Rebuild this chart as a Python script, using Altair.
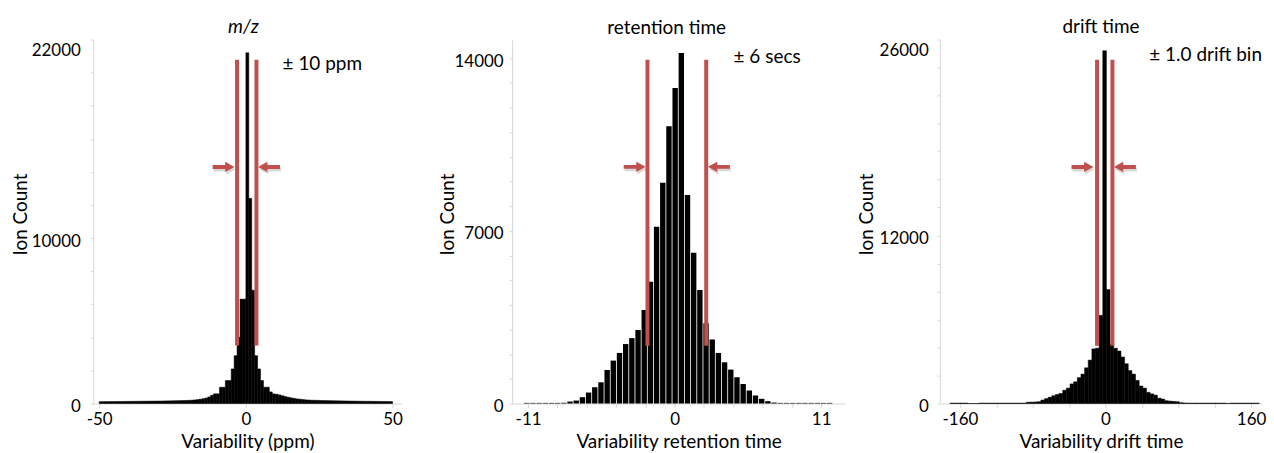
import altair as alt
import pandas as pd

FONT = "Lato"
RED = "#c0504d"
AXIS_GRAY = "#d9d9d9"

# ---------------- panel 1 : m/z (1 ppm bins, start of bin) ----------------
mz_bin_start = list(range(-50, 50))
mz_bin_width = 1
mz_counts = [
    110, 112, 114, 116, 118, 120, 122, 124, 126, 128,
    130, 132, 134, 136, 138, 140, 142, 144, 146, 148,
    150, 153, 156, 159, 162, 166, 170, 175, 180, 185,
    190, 200, 215, 235, 260, 290, 330, 400, 500, 585,
    585, 985, 985, 1390, 1390, 2090, 2890, 4000, 6310, 6310,
    21200, 12400, 6850, 2890, 2090, 1390, 985, 985, 700, 585,
    560, 520, 470, 420, 380, 340, 310, 280, 260, 240,
    220, 210, 200, 195, 190, 185, 180, 176, 172, 168,
    165, 162, 159, 156, 153, 150, 147, 144, 141, 138,
    136, 134, 132, 130, 128, 126, 124, 122, 120, 118,
]

# ---------------- panel 2 : retention time ----------------
rt_bin_width = 0.464
rt_bin_start = [round(-11.3 + rt_bin_width * i, 3) for i in range(50)]
rt_counts = [
    25, 25, 25, 25, 25, 25, 30, 80, 120, 255,
    445, 660, 860, 1360, 1740, 2050, 2410, 2650, 2980, 3790,
    4930, 7160, 8950, 11240, 12790, 14200, 8450, 6105, 4600, 3250,
    2590, 2050, 1670, 1375, 1065, 795, 525, 325, 190, 95,
    40, 25, 25, 25, 25, 25, 25, 25, 25, 25,
]

# ---------------- panel 3 : drift time (bin centres) ----------------
dt_bin_width = 4
dt_bin_center = list(range(-169, 168, 4))
dt_counts = [
    30, 30, 30, 30, 30, 0, 0, 0, 30, 30,
    30, 30, 30, 30, 30, 30, 30, 30, 30, 30,
    30, 90, 100, 110, 130, 250, 350, 450, 560, 650,
    720, 950, 1100, 1400, 1550, 1850, 2100, 2550, 3100, 3900,
    3950, 6300, 25200, 8140, 4250, 3950, 3750, 3320, 2840, 2350,
    2100, 1650, 1250, 1100, 800, 690, 600, 380, 320, 200,
    170, 150, 130, 60, 40, 30, 30, 30, 30, 30,
    30, 30, 30, 30, 30, 30, 0, 30, 30, 30,
    30, 30, 30, 30, 30,
]

ARROW_RIGHT = "M-1,-0.18 L0.15,-0.18 L0.15,-0.47 L1,0 L0.15,0.47 L0.15,0.18 L-1,0.18 Z"
ARROW_LEFT = "M1,-0.18 L-0.15,-0.18 L-0.15,-0.47 L-1,0 L-0.15,0.47 L-0.15,0.18 L1,0.18 Z"

PANEL_H = 365


def build_panel(df, xdom, ydom, width, xvals, xshow, yvals, yshow, ytop,
                title, italic, title_dx, xtitle, ytitle_x, ylab_pad,
                lines_x, line_y, arrow_l, arrow_r, note, gap, seam):
    xaxis = alt.Axis(
        values=xvals,
        labelExpr=f"indexof({xshow}, datum.value) >= 0 ? '' + datum.value : ''",
        title=xtitle, titleX=width / 2, titleY=44, titleBaseline="alphabetic",
        titleAlign="center", tickSize=4, labelPadding=4, labelFlush=False,
        labelOverlap=False, labelBound=False,
    )
    if ytop is not None:
        ybase = {"condition": {"test": f"datum.value == {ytop}", "value": "top"},
                 "value": "middle"}
    else:
        ybase = "middle"
    yaxis = alt.Axis(
        values=yvals,
        labelExpr=f"indexof({yshow}, datum.value) >= 0 ? '' + datum.value : ''",
        title="Ion Count", titleX=ytitle_x, titleY=175, titleAngle=270,
        titleAlign="center", titleBaseline="middle",
        tickSize=3, labelPadding=ylab_pad, labelOffset=3, labelBaseline=ybase,
        labelFlush=False, labelOverlap=False,
    )
    xs = alt.Scale(domain=xdom, nice=False, zero=False)
    ys = alt.Scale(domain=ydom, nice=False)

    def X(f):
        return alt.X(f, type="quantitative", scale=xs, axis=xaxis)

    def Y(f):
        return alt.Y(f, type="quantitative", scale=ys, axis=yaxis)

    bar_kwargs = dict(color="black")
    if gap:
        bar_kwargs["x2Offset"] = -0.8
    if seam:
        bar_kwargs.update(stroke="black", strokeWidth=0.5)
    bars = alt.Chart(df).mark_rect(**bar_kwargs).encode(
        x=X("x0"), x2="x1", y=Y("count"), y2=alt.datum(0))

    ldf = pd.DataFrame({"x": lines_x, "y1": [line_y[0]] * 2, "y2": [line_y[1]] * 2})
    lines = alt.Chart(ldf).mark_rule(color=RED, strokeWidth=4).encode(
        x=X("x"), y=Y("y1"), y2="y2")

    adf_r = pd.DataFrame({"x": [arrow_l[0]], "y": [arrow_l[1]]})
    adf_l = pd.DataFrame({"x": [arrow_r[0]], "y": [arrow_r[1]]})
    layers = [bars, lines]
    for adf, shape in ((adf_r, ARROW_RIGHT), (adf_l, ARROW_LEFT)):
        shadow = alt.Chart(adf).mark_point(
            shape=shape, filled=True, size=484, color="#7f7f7f", opacity=0.3,
            strokeWidth=0, xOffset=1, yOffset=2.5).encode(x=X("x"), y=Y("y"))
        arr = alt.Chart(adf).mark_point(
            shape=shape, filled=True, size=484, color=RED, opacity=1,
            strokeWidth=0).encode(x=X("x"), y=Y("y"))
        layers += [shadow, arr]

    tdf = pd.DataFrame({"x": [note[0]], "y": [note[1]], "t": [note[2]]})
    text = alt.Chart(tdf).mark_text(
        font=FONT, fontSize=19, align="left", baseline="middle", color="black"
    ).encode(x=X("x"), y=Y("y"), text="t:N")
    layers.append(text)

    return alt.layer(*layers).properties(
        width=width, height=PANEL_H,
        title=alt.TitleParams(title, fontStyle="italic" if italic else "normal",
                              dx=title_dx, offset=-13, baseline="alphabetic",
                              anchor="middle", frame="group"),
    )


df1 = pd.DataFrame({"x0": mz_bin_start,
                    "x1": [s + mz_bin_width for s in mz_bin_start],
                    "count": mz_counts})
df2 = pd.DataFrame({"x0": rt_bin_start,
                    "x1": [round(s + rt_bin_width, 3) for s in rt_bin_start],
                    "count": rt_counts})
df3 = pd.DataFrame({"x0": [c - dt_bin_width / 2 for c in dt_bin_center],
                    "x1": [c + dt_bin_width / 2 for c in dt_bin_center],
                    "count": dt_counts})

p1 = build_panel(
    df1, [-52, 53], [0, 22000], 309,
    [-50, 0, 50], [-50, 0, 50],
    list(range(0, 22001, 2000)), [0, 10000, 22000], 22000,
    "m/z", True, -4, "Variability (ppm)", -73.2, 10,
    [-3.0, 3.6], (3500, 20780), (-7.6, 14300), (7.9, 14300),
    (12.5, 20550, "\u00b1 10 ppm"), False, True)

p2 = build_panel(
    df2, [-12.2, 12.8], [0, 14750], 334,
    [-11, -8.8, -6.6, -4.4, -2.2, 0, 2.2, 4.4, 6.6, 8.8, 11], [-11, 0, 11],
    list(range(0, 14001, 1000)), [0, 7000, 14000], None,
    "retention time", False, -12, "Variability retention time", -64.7, 6,
    [-2.04, 2.37], (2345, 13930), (-3.0, 9590), (3.32, 9590),
    (4.42, 14060, "\u00b1 6 secs"), True, False)

p3 = build_panel(
    df3, [-182, 172], [0, 26000], 323,
    list(range(-160, 161, 40)), [-160, 0, 160],
    list(range(0, 26001, 2000)), [0, 12000, 26000], 26000,
    "drift time", False, 0, "Variability drift time", -73.4, 8.7,
    [-9.3, 7.6], (4130, 24550), (-25.3, 16900), (21.3, 16900),
    (48.1, 24860, "\u00b1 1.0 drift bin"), False, True)


def spacer(w):
    return alt.Chart(pd.DataFrame({"v": [0]})).mark_point(opacity=0).encode(
        x=alt.X("v:Q", axis=None), y=alt.Y("v:Q", axis=None)
    ).properties(width=w, height=PANEL_H)


chart = alt.hconcat(p1, spacer(111), p2, spacer(95), p3, spacing=0, bounds="flush").properties(
    padding={"left": 2.5, "top": 9, "right": 0, "bottom": 0}
).configure_view(strokeWidth=0).configure_axis(
    labelFont=FONT, titleFont=FONT, labelFontSize=17, titleFontSize=19,
    labelColor="black", titleColor="black", titleFontWeight="normal",
    domainColor=AXIS_GRAY, tickColor=AXIS_GRAY, grid=False,
).configure_title(font=FONT, fontSize=19, fontWeight="normal", color="black")

chart.save("out.html", embed_options={"renderer": "svg", "actions": False})
